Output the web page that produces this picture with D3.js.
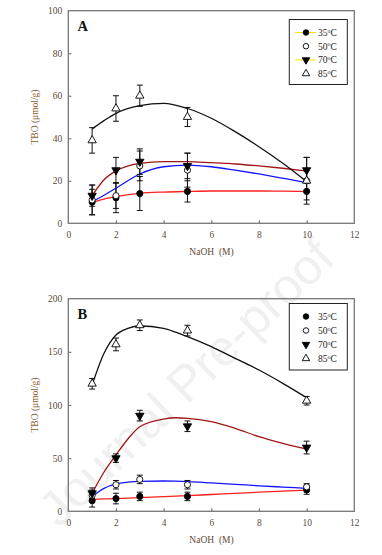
<!DOCTYPE html>
<html><head><meta charset="utf-8">
<script src="https://cdn.jsdelivr.net/npm/d3@7"></script>
<style>body{margin:0;background:#fff}svg{display:block}text{font-family:"Liberation Serif","Times New Roman",serif}</style>
</head><body>
<svg id="c" width="382" height="555"></svg>
<script>
const naoh = [1, 2, 3, 5, 10];
const seriesNames = ["35", "50", "70", "85"];
const xTicks = [0, 2, 4, 6, 8, 10, 12];
const yTicksA = [0, 20, 40, 60, 80, 100];
const yTicksB = [0, 50, 100, 150, 200];

// Panel A measured means and errors
const a35 = [10, 12, 14, 15, 15],  a35err = [6, 7, 8, 5, 4];
const a50 = [11, 13, 27, 25, 20],  a50err = [7, 6, 7, 8, 5];
const a70 = [13, 25, 29, 27, 25],  a70err = [5, 6, 6, 6, 6];
const a85 = [39, 54, 60, 50, 20],  a85err = [6, 6, 5, 4.5, 11];
// Panel A fitted curves
const fitXA = [1, 1.5, 2, 3, 4, 5, 6, 7, 8, 9, 10];
const fitA35 = [9.9, 11.4, 12.5, 14.1, 14.7, 15.0, 15.2, 15.2, 15.2, 15.1, 14.9];
const fitA50 = [10.2, 13.2, 16.5, 23.2, 26.6, 27.4, 26.6, 25.0, 23.2, 21.2, 19.1];
const fitA70 = [13.0, 20.5, 24.6, 28.2, 29.0, 29.0, 28.5, 27.9, 27.0, 25.9, 24.6];
const fitA85 = [44.4, 48.3, 51.7, 55.3, 56.4, 54.0, 49.4, 43.1, 36.0, 28.2, 19.6];

// Panel B measured means and errors
const b35 = [10, 12, 14, 14, 20],  b35err = [6, 5, 4, 4, 4];
const b50 = [15, 25, 30, 25, 23],  b50err = [5, 4, 4, 4, 3];
const b70 = [17, 50, 90, 80, 60],  b70err = [5, 4, 5, 5, 6];
const b85 = [120, 157, 175, 170, 104], b85err = [5, 6, 5, 5, 4];
// Panel B fitted curves
const fitXB = [1, 1.5, 2, 2.5, 3, 4, 4.5, 5, 6, 7, 8, 9, 10];
const fitB35 = [11.3, 11.6, 11.9, 12.3, 12.9, 13.8, 14.2, 14.7, 15.8, 16.9, 18.0, 19.0, 20.0];
const fitB50 = [13.8, 21.5, 25.7, 27.4, 28.2, 28.5, 28.3, 27.9, 26.7, 25.4, 24.0, 22.8, 21.6];
const fitB70 = [17.0, 37.0, 53.0, 68.0, 79.6, 86.8, 88.0, 87.5, 84.3, 78.0, 70.2, 64.0, 58.6];
const fitB85 = [118.8, 148.6, 165.8, 172.0, 174.3, 172.0, 168.5, 164.3, 154.9, 143.9, 132.9, 120.4, 106.9];

const svg = d3.select("#c");
const axisCol = "#777";
const labCol = "#5b4a36";
const titleCol = "#8a5a2c";
const curveCols = {"35": "#ff1f1f", "50": "#1414ff", "70": "#a01616", "85": "#111"};

// faint watermark
svg.append("text").attr("x", 0).attr("y", 0)
  .attr("transform", "translate(198,395) rotate(-44)")
  .attr("text-anchor", "middle")
  .attr("style", "font-family:'Liberation Sans',Arial,sans-serif;font-size:50px")
  .attr("fill", "#000").attr("opacity", 0.055)
  .text("Journal Pre-proof");

function panel(cfg) {
  const x = d3.scaleLinear().domain([0, 12]).range([68.3, 354.3]);
  const y = d3.scaleLinear().domain([0, cfg.ymax]).range([cfg.bottom, cfg.top]);
  const g = svg.append("g");

  // frame
  g.append("rect").attr("x", x(0)).attr("y", y(cfg.ymax))
    .attr("width", x(12) - x(0)).attr("height", y(0) - y(cfg.ymax))
    .attr("fill", "none").attr("stroke", axisCol).attr("stroke-width", 1.3);

  // axes with inward ticks
  const xa = g.append("g").attr("transform", `translate(0,${y(0)})`)
    .call(d3.axisBottom(x).tickValues(xTicks).tickSize(-3).tickPadding(8).tickFormat(d3.format("d")));
  const ya = g.append("g").attr("transform", `translate(${x(0)},0)`)
    .call(d3.axisLeft(y).tickValues(cfg.yTicks).tickSize(-3).tickPadding(6).tickFormat(d3.format("d")));
  [xa, ya].forEach(a => {
    a.select(".domain").remove();
    a.selectAll(".tick line").attr("stroke", axisCol).attr("stroke-width", 1.2);
    a.selectAll(".tick text").attr("fill", labCol).attr("font-size", 9.5);
  });
  xa.selectAll(".tick").filter(d => d === 0 || d === 12).select("line").remove();
  ya.selectAll(".tick").filter(d => d === 0 || d === cfg.ymax).select("line").remove();

  // titles
  g.append("text").attr("transform", `translate(38,${(cfg.top + cfg.bottom) / 2}) rotate(-90)`)
    .attr("text-anchor", "middle").attr("font-size", 9.5).attr("fill", titleCol)
    .text("TBO (\u03bcmol/g)");
  g.append("text").attr("x", 211.5).attr("y", cfg.bottom + 32)
    .attr("text-anchor", "middle").attr("font-size", 9.5).attr("fill", labCol)
    .attr("xml:space", "preserve").text("NaOH  (M)");
  g.append("text").attr("x", 77.5).attr("y", y(cfg.ymax) + 20)
    .attr("font-size", 14.5).attr("font-weight", "bold").attr("fill", "#111")
    .text(cfg.letter);

  // fitted curves
  const line = d3.line().x(d => x(d[0])).y(d => y(d[1])).curve(d3.curveMonotoneX);
  cfg.fits.forEach((f, i) => {
    g.append("path").datum(cfg.fitX.map((xx, j) => [xx, f[j]]))
      .attr("d", line).attr("fill", "none")
      .attr("stroke", curveCols[seriesNames[i]]).attr("stroke-width", 1.3);
  });

  // error bars
  cfg.means.forEach((m, i) => {
    const err = cfg.errs[i];
    const eg = g.append("g").attr("stroke", "#111").attr("stroke-width", 1);
    naoh.forEach((xx, j) => {
      const lo = y(m[j] - err[j]), hi = y(m[j] + err[j]);
      eg.append("line").attr("x1", x(xx)).attr("x2", x(xx)).attr("y1", lo).attr("y2", hi);
      eg.append("line").attr("x1", x(xx) - 3).attr("x2", x(xx) + 3).attr("y1", lo).attr("y2", lo);
      eg.append("line").attr("x1", x(xx) - 3).attr("x2", x(xx) + 3).attr("y1", hi).attr("y2", hi);
    });
  });

  // markers
  const syms = [
    {t: d3.symbolCircle, s: 30, fill: "#000"},
    {t: d3.symbolCircle, s: 30, fill: "#fff"},
    {t: d3.symbolTriangle, s: 30, fill: "#000", rot: 180},
    {t: d3.symbolTriangle, s: 30, fill: "#fff", rot: 0}
  ];
  cfg.means.forEach((m, i) => {
    const sy = syms[i];
    naoh.forEach((xx, j) => {
      g.append("path").attr("d", d3.symbol().type(sy.t).size(sy.s)())
        .attr("transform", `translate(${x(xx)},${y(m[j])}) rotate(${sy.rot || 0})`)
        .attr("fill", sy.fill).attr("stroke", "#000").attr("stroke-width", 0.9);
    });
  });

  // legend
  const lg = g.append("g");
  lg.append("rect").attr("x", 289.3).attr("y", cfg.legTop).attr("width", 58).attr("height", cfg.legH)
    .attr("fill", "#fff").attr("stroke", "#222").attr("stroke-width", 1);
  seriesNames.forEach((n, i) => {
    const cy = cfg.legTop + 13 + i * cfg.legStep;
    if (cfg.yellow && (i === 0 || i === 2)) {
      lg.append("line").attr("x1", 295).attr("x2", 316).attr("y1", cy).attr("y2", cy)
        .attr("stroke", "#f2e500").attr("stroke-width", 1);
    }
    const sy = syms[i];
    lg.append("path").attr("d", d3.symbol().type(sy.t).size(24)())
      .attr("transform", `translate(306,${cy}) rotate(${sy.rot || 0})`)
      .attr("fill", sy.fill).attr("stroke", "#000").attr("stroke-width", 0.9);
    const t = lg.append("text").attr("x", 318).attr("y", cy + 3.5)
      .attr("font-size", 9.5).attr("fill", "#222");
    t.append("tspan").text(n);
    t.append("tspan").attr("font-size", 6).attr("dy", -3.5).text("o");
    t.append("tspan").attr("dy", 3.5).text("C");
  });
}

panel({letter: "A", ymax: 100, top: 10.7, bottom: 223.3, yTicks: yTicksA,
  means: [a35, a50, a70, a85], errs: [a35err, a50err, a70err, a85err],
  fitX: fitXA, fits: [fitA35, fitA50, fitA70, fitA85],
  legTop: 19.5, legH: 65, legStep: 13.7, yellow: true});
panel({letter: "B", ymax: 200, top: 298.7, bottom: 511.3, yTicks: yTicksB,
  means: [b35, b50, b70, b85], errs: [b35err, b50err, b70err, b85err],
  fitX: fitXB, fits: [fitB35, fitB50, fitB70, fitB85],
  legTop: 303.5, legH: 66.5, legStep: 14, yellow: false});
</script>
</body></html>
